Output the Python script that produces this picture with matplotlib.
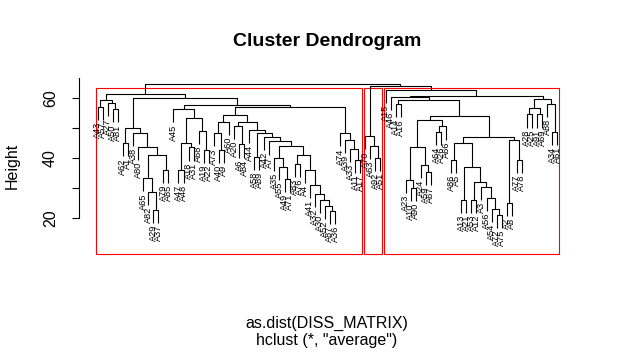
import matplotlib
matplotlib.use("Agg")
import matplotlib.pyplot as plt
from matplotlib.patches import Rectangle

plt.rcParams['font.family'] = ['Liberation Sans', 'DejaVu Sans']

# ---- tree: (left, right, merge height) ----
# left cluster
left_top = (("A43", "A57", 57.1), ("A27", ("A50", "A81", 56.2), 58.2), 59.3)
left_s2a = (("A62", "A1", 44.9),
            ("A38", ("A80", (("A65", ("A82", ("A29", "A37", 22.7), 28.8), 33.2),
                             ("A79", "A85", 36.0), 41.0), 43.8), 48.2), 49.9)
left_s2b1 = ("A45", (((("A47", "A48", 36.0), ("A18", "A31", 43.5), 44.9)),
                     ("A68", ("A19", "A22", 42.7), 49.0), 53.2), 56.2)
left_xa = (("A73", ("A40", "A9", 42.7), 48.2), "A60", 52.0)
left_l1 = ("A20", ("A6", "A84", 44.5), 50.8)
left_m6 = ("A35", ("A55", ("A49", "A71", 33.0), 37.0), 40.0)
left_m7 = (("A83", "A76", 38.0),
           ("A4", ("A41", ("A32", ("A30", ("A52", ("A87", "A36", 22.5), 24.0), 26.0), 28.0), 31.0), 36.0), 41.0)
left_m = ("A44", (("A58", "A89", 40.5),
                  ("A42", ("A7", (left_m6, left_m7, 44.0), 45.5), 47.0), 48.3), 49.3)
left_r1 = ("A74", ("A39", ("A33", ("A11", "A17", 39.5), 43.0), 46.0), 48.2)
left_s2b2 = ((left_xa, (left_l1, left_m, 52.0), 54.3), left_r1, 56.9)
left_tree = (left_top, (left_s2a, (left_s2b1, left_s2b2, 57.7), 59.9), 61.4)

# middle cluster
mid_tree = ("A70", ("A63", ("A92", "A51", 40.0), 43.9), 47.2)

# right cluster
right_g = ((("A28", "A25", 54.5), ("A91", "A69", 54.5), 56.6),
           ("A88", ("A34", "A61", 48.8), 57.9), 59.7)
right_e = ((("A23", ("A10", "A90", 29.9), 32.7), ("A24", ("A59", "A67", 35.4), 37.7), 43.8),
           (("A64", "A26", 48.8), "A66", 50.5), 52.7)
right_h = ((("A86", "A5", 39.5),
            (("A13", "A21", 26.0),
             (("A53", "A12", 26.0),
              ("A3", ("A56", ("A54", ("A72", "A75", 21.0), 23.0), 26.6), 30.4), 32.1), 37.1), 45.0),
           (("A2", "A8", 25.0), ("A77", "A78", 39.3), 46.0), 47.1)
right_tree = ("A15", (("A46", (("A14", "A16", 57.9), (right_e, right_h, 54.0), 59.2), 60.3),
                      right_g, 60.8), 62.6)

root = (left_tree, (mid_tree, right_tree, 63.9), 64.6)
clusters = [left_tree, mid_tree, right_tree]


def collect(node, leaves, heights):
    if isinstance(node, str):
        leaves.append(node)
        return
    collect(node[0], leaves, heights)
    collect(node[1], leaves, heights)
    heights.append(node[2])


leaves, heights = [], []
collect(root, leaves, heights)
n = len(leaves)
hang = 0.1 * (max(heights) - min(heights))

fig = plt.figure(figsize=(6.17, 3.52), dpi=100)
ax = fig.add_axes([79.3 / 617, (352 - 253.7) / 352, 496.3 / 617, (253.7 - 78.2) / 352])
ax.set_xlim(1 - 0.04 * (n - 1), n + 0.04 * (n - 1))
ax.set_ylim(8.1, 66.6)

pos = {lab: i + 1 for i, lab in enumerate(leaves)}


def draw(node):
    # returns (x, top y) of the node
    if isinstance(node, str):
        return pos[node], None
    xl, yl = draw(node[0])
    xr, yr = draw(node[1])
    h = node[2]
    for child, xc in ((node[0], xl), (node[1], xr)):
        if isinstance(child, str):
            ax.text(xc, h - hang - 0.6, child, rotation=90, ha='center', va='top', fontsize=6.6)
    yl = h - hang if yl is None else yl
    yr = h - hang if yr is None else yr
    ax.plot([xl, xl, xr, xr], [yl, h, h, yr], color='black', lw=0.8, solid_capstyle='butt')
    return (xl + xr) / 2, h


draw(root)

# rect.hclust(k = 3)
top = sorted(heights)[::-1]
box_h = (top[1] + top[2]) / 2
m = 0
for cl in clusters:
    lv, hh = [], []
    collect(cl, lv, hh)
    ax.add_patch(Rectangle((m + 0.66, 8.1), len(lv) - 0.33, box_h - 8.1,
                           fill=False, edgecolor='red', lw=0.8, clip_on=False))
    m += len(lv)

for s in ['top', 'right', 'bottom']:
    ax.spines[s].set_visible(False)
ax.spines['left'].set_bounds(20, 66.6)
ax.spines['left'].set_linewidth(0.8)
ax.set_xticks([])
ax.set_yticks([20, 30, 40, 50, 60])
ax.set_yticklabels(['20', '', '40', '', '60'], rotation=90, va='center')
ax.tick_params(axis='y', length=5.4, width=0.8, labelsize=11.5, pad=10)

fig.text(327 / 617, 1 - 41 / 352, 'Cluster Dendrogram', ha='center', va='center',
         fontsize=14, fontweight='bold')
fig.text(327 / 617, 1 - 323 / 352, 'as.dist(DISS_MATRIX)', ha='center', va='center', fontsize=11.5)
fig.text(327 / 617, 1 - 341 / 352, 'hclust (*, "average")', ha='center', va='center', fontsize=11.5)
fig.text(12 / 617, 1 - 166 / 352, 'Height', rotation=90, ha='center', va='center', fontsize=11.5)

fig.savefig('out.png', dpi=100)
